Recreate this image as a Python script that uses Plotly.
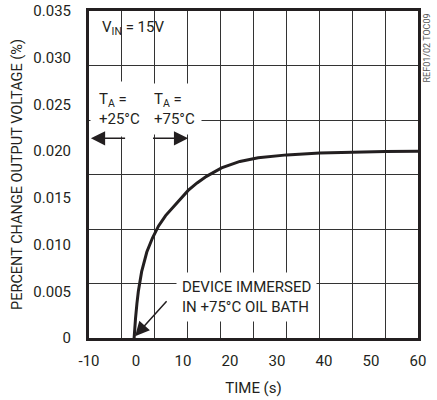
import plotly.graph_objects as go

# Data
time_s = [-0.4, -0.3, -0.1, 0.2, 0.5, 1.2, 2.3, 3.5, 4.8, 6.3, 7.9, 9.5, 11.1, 13.0, 15.0,
          18.2, 22.1, 26.0, 32.1, 39.1, 46.2, 53.0, 60.0]
pct_change = [0.0, 0.0010, 0.0021, 0.0037, 0.0050, 0.0071, 0.0092, 0.0107, 0.0120, 0.0131, 0.0140,
              0.0150, 0.0158, 0.0166, 0.0173, 0.0182, 0.0189, 0.0193, 0.0196, 0.0198, 0.0199,
              0.01995, 0.0200]

x_ticks = [-10, 0, 10, 20, 30, 40, 50, 60]
x_tick_text = ["-10", "0", "10", "20", "30", "40", "50", "60"]
y_ticks = [0, 0.005, 0.010, 0.015, 0.020, 0.025, 0.030, 0.035]
y_tick_text = ["0", "0.005", "0.010", "0.015", "0.020", "0.025", "0.030", "0.035"]

FONT = "Roboto, Liberation Sans, sans-serif"
TXT = "#231f20"
GRID = "#333"

fig = go.Figure()
fig.add_trace(go.Scatter(x=time_s, y=pct_change, mode="lines",
                         line=dict(color=TXT, width=3),
                         hoverinfo="skip", showlegend=False))

fig.update_layout(
    width=437, height=400,
    margin=dict(l=89, r=19, t=11, b=62),
    paper_bgcolor="white", plot_bgcolor="white",
    font=dict(family=FONT, size=15, color=TXT),
    xaxis=dict(range=[-10, 60], tickvals=x_ticks, ticktext=x_tick_text, ticks="", showgrid=False,
               zeroline=False, automargin=False, ticklabelstandoff=7,
               showline=True, linecolor=TXT, linewidth=3, mirror=True,
               minor=dict(tick0=-10, dtick=7, showgrid=True, gridcolor=GRID, gridwidth=1, ticks=""),
               title=dict(text="TIME (s)", standoff=14, font=dict(size=15)),
               tickfont=dict(size=15)),
    yaxis=dict(range=[0, 0.035], tickvals=y_ticks, ticktext=y_tick_text, ticks="", showgrid=False,
               zeroline=False, automargin=False, ticklabelstandoff=12,
               showline=True, linecolor=TXT, linewidth=3, mirror=True,
               minor=dict(tick0=0, dtick=0.035 / 6, showgrid=True, gridcolor=GRID, gridwidth=1, ticks=""),
               title=dict(text="PERCENT CHANGE OUTPUT VOLTAGE (%)", standoff=8, font=dict(size=14.5)),
               tickfont=dict(size=15)),
)

# Text labels
fig.add_annotation(x=-7.7, y=0.0332, text="V<sub>IN</sub> = 15V", showarrow=False,
                   xanchor="left", yanchor="middle")
fig.add_annotation(x=-9.8, y=0.02456, text="T<sub>A</sub> =<br>+25°C", showarrow=False,
                   xanchor="left", yanchor="middle", align="left", bgcolor="white", borderpad=8)
fig.add_annotation(x=2.4, y=0.02456, text="T<sub>A</sub> =<br>+75°C", showarrow=False,
                   xanchor="left", yanchor="middle", align="left", bgcolor="white", borderpad=6)
fig.add_annotation(x=8.6, y=0.00439, text="DEVICE IMMERSED<br>IN +75°C OIL BATH", showarrow=False,
                   xanchor="left", yanchor="middle", align="left", bgcolor="white", borderpad=5)
fig.add_annotation(x=1.006, y=1.0, xref="paper", yref="paper", text="REF01/02 TOC09",
                   showarrow=False, textangle=-90, xanchor="left", yanchor="top",
                   font=dict(size=9, color="#555"))

# Arrows
arrow_style = dict(showarrow=True, text="", arrowhead=2, arrowsize=1.9, arrowwidth=1.5,
                   arrowcolor=TXT, axref="x", ayref="y", standoff=0)
fig.add_annotation(x=-9.6, y=0.02137, ax=-2.0, ay=0.02137, **arrow_style)
fig.add_annotation(x=11.1, y=0.02137, ax=3.3, ay=0.02137, **arrow_style)
fig.add_annotation(x=-0.2, y=0.0002, ax=6.8, ay=0.0041, **arrow_style)

fig.write_html("out.html", config={"displayModeBar": False},
               post_script="document.body.style.margin='0';document.body.style.overflow='hidden';")
